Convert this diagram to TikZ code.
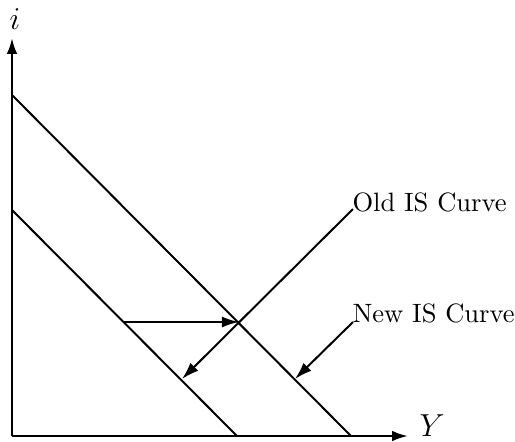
\documentclass[tikz,border=0pt]{standalone}
\usetikzlibrary{arrows.meta}
\begin{document}
\begin{tikzpicture}[x=0.377pt,y=-0.377pt,
  axis/.style={line width=0.9pt,-{Latex[length=6pt,width=4pt]}},
  curve/.style={line width=0.75pt},
  pointer/.style={line width=0.75pt,-{Latex[length=6.5pt,width=4.2pt]}},
  lbl/.style={inner sep=0pt,anchor=base west},
  axlbl/.style={font=\large}]
\useasboundingbox (0,0) rectangle (515,441);
\coordinate (O) at (12,436);
\coordinate (Ytop) at (12,38);
\coordinate (Xend) at (408,436);
\draw[axis] (O) -- (Ytop);
\draw[axis] (O) -- (Xend);
\node[axlbl] (ilab) at (15,19) {$i$};
\node[axlbl] (Ylab) at (432,426) {$Y$};
% curves
\coordinate (U1) at (12,95);
\coordinate (U2) at (351,436);
\coordinate (L1) at (12,210);
\coordinate (L2) at (237,436);
\draw[curve] (U1) -- (U2);
\draw[curve] (L1) -- (L2);
% horizontal shift arrow
\coordinate (hs) at (124,322);
\coordinate (he) at (239,322);
\draw[pointer] (hs) -- (he);
% labels
\node[lbl] (old) at (352,211) {Old IS Curve};
\node[lbl] (new) at (352,322) {New IS Curve};
\coordinate (oldS) at (353,209);
\coordinate (oldE) at (182,379);
\coordinate (newS) at (353,322);
\coordinate (newE) at (295,379);
\draw[pointer] (oldS) -- (oldE);
\draw[pointer] (newS) -- (newE);
\end{tikzpicture}
\end{document}
